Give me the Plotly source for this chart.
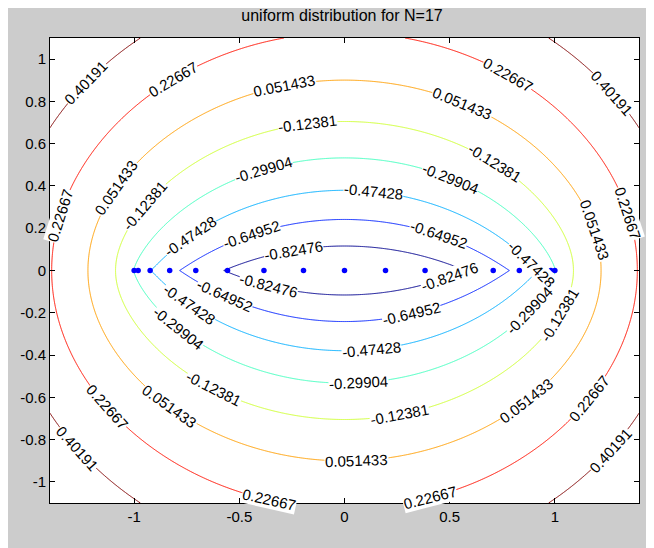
import numpy as np
import plotly.graph_objects as go

# --- data ---
title_text = "uniform distribution for N=17"
levels = [-0.82476, -0.64952, -0.47428, -0.29904, -0.12381, 0.051433, 0.22667, 0.40191]
level_text = ["-0.82476", "-0.64952", "-0.47428", "-0.29904", "-0.12381", "0.051433",
              "0.22667", "0.40191"]
# node positions on the real axis (blue dots)
node_x = [-1.0, -0.981, -0.924, -0.831, -0.707, -0.556, -0.383, -0.195, 0.0,
          0.195, 0.383, 0.556, 0.707, 0.831, 0.924, 0.981, 1.0]
node_y = [0.0] * len(node_x)
x_ticks = [-1, -0.5, 0, 0.5, 1]
y_ticks = [-1, -0.8, -0.6, -0.4, -0.2, 0, 0.2, 0.4, 0.6, 0.8, 1]
x_range = [-1.4, 1.4]
y_range = [-1.1, 1.1]

# approximate contour-label positions (level index, x, y)
label_level = [0, 0, 0,
               1, 1, 1, 1,
               2, 2, 2, 2, 2,
               3, 3, 3, 3, 3,
               4, 4, 4, 4, 4, 4,
               5, 5, 5, 5, 5, 5, 5,
               6, 6, 6, 6, 6, 6, 6, 6,
               7, 7, 7, 7]
label_x = [-0.241, -0.364, 0.497,
           -0.44, -0.572, 0.44, 0.317,
           -0.733, -0.738, 0.137, 0.875, 0.128,
           -0.383, -0.795, 0.497, 0.884, 0.066,
           -0.936, -0.170, 0.70, 1.017, -0.62, 0.26,
           -1.078, -0.274, 0.544, 1.159, -0.832, 0.057, 0.87,
           -0.809, 0.766, -1.362, 1.324, -1.13, 1.154, -0.355, 0.402,
           -1.282, 1.263, -1.268, 1.263]
label_y = [0.097, -0.083, -0.017,
           0.158, -0.125, 0.144, -0.196,
           0.158, -0.163, 0.357, 0.012, -0.376,
           0.466, -0.282, 0.419, -0.196, -0.513,
           0.296, 0.665, 0.49, -0.21, -0.556, -0.674,
           0.386, 0.821, 0.745, 0.182, -0.646, -0.897, -0.622,
           0.892, 0.911, 0.263, 0.263, -0.646, -0.598, -1.062, -1.053,
           0.939, 0.83, -0.84, -0.849]


# logarithmic potential of the uniform distribution on [-1, 1]
def zlogz(w):
    w = np.asarray(w, dtype=complex)
    out = np.zeros_like(w)
    m = np.abs(w) > 1e-12
    out[m] = w[m] * np.log(w[m])
    return out


def potential(z):
    return 0.5 * np.real(zlogz(z + 1) - zlogz(z - 1)) - 1.0


def gradient(z):
    d = 0.5 * (np.log(z + 1) - np.log(z - 1))
    return np.real(d), -np.imag(d)


gx = np.linspace(x_range[0], x_range[1], 281)
gy = np.linspace(y_range[0], y_range[1], 221)
X, Y = np.meshgrid(gx, gy)
U = potential(X + 1j * Y)


# MATLAB-style jet colormap (64 entries)
def jet64():
    m = 64
    n = 16
    u = np.concatenate([np.arange(1, n + 1) / n, np.ones(n - 1), np.arange(n, 0, -1) / n])
    g = 8 + np.arange(1, len(u) + 1)
    r = g + n
    b = g - n
    J = np.zeros((m, 3))
    J[r[r <= m] - 1, 0] = u[r <= m]
    J[g[g <= m] - 1, 1] = u[g <= m]
    J[b[b > 0] - 1, 2] = u[b > 0]
    return J


J = jet64()
level_colors = []
for k in range(len(levels)):
    idx = int(round(k * 63 / (len(levels) - 1)))
    r, g, b = (J[idx] * 255).round().astype(int)
    level_colors.append(f"rgb({r},{g},{b})")

fig = go.Figure()
for lev, col in zip(levels, level_colors):
    fig.add_trace(go.Contour(
        x=gx, y=gy, z=U,
        autocontour=False,
        contours=dict(start=lev, end=lev + 1e-4, size=1.0, coloring="none",
                      showlabels=False),
        line=dict(color=col, width=1, smoothing=0),
        showscale=False, hoverinfo="skip",
    ))

fig.add_trace(go.Scatter(x=node_x, y=node_y, mode="markers",
                         marker=dict(color="#0000ff", size=5.5),
                         showlegend=False, hoverinfo="skip"))

# figure geometry (pixels per data unit), used to orient labels along the lines
fig_w, fig_h = 646, 540
mar = dict(l=39, r=15, t=30, b=45)
sx = (fig_w - mar["l"] - mar["r"]) / (x_range[1] - x_range[0])
sy = (fig_h - mar["t"] - mar["b"]) / (y_range[1] - y_range[0])

annotations = []
for li, lx, ly in zip(label_level, label_x, label_y):
    lev = levels[li]
    p = complex(lx, ly)
    for _ in range(8):
        gxv, gyv = gradient(p)
        val = potential(np.array([p]))[0]
        n2 = gxv * gxv + gyv * gyv
        p = p - (val - lev) * complex(gxv, gyv) / n2
    gxv, gyv = gradient(p)
    gsx, gsy = gxv / sx, -gyv / sy
    tx, ty = -gsy, gsx
    ang = np.degrees(np.arctan2(ty, tx))
    if ang > 90:
        ang -= 180
    if ang <= -90:
        ang += 180
    annotations.append(dict(
        x=p.real, y=p.imag, xref="x", yref="y", text=level_text[li],
        textangle=float(ang), showarrow=False, xanchor="center", yanchor="middle",
        bgcolor="white", borderpad=0,
        font=dict(family="Liberation Sans", size=15, color="black"),
    ))

axis_common = dict(showgrid=False, zeroline=False, showline=True, linecolor="black",
                   linewidth=1, mirror="ticks", ticks="inside", ticklen=5,
                   tickcolor="black",
                   tickfont=dict(family="Liberation Sans", size=15, color="black"))
fig.update_xaxes(range=x_range, tickvals=x_ticks, ticktext=[f"{v:g}" for v in x_ticks],
                 **axis_common)
fig.update_yaxes(range=y_range, tickvals=y_ticks, ticktext=[f"{v:g}" for v in y_ticks],
                 **axis_common)

fig.update_layout(
    width=fig_w, height=fig_h,
    margin=mar,
    paper_bgcolor="#cccccc", plot_bgcolor="white",
    showlegend=False,
    annotations=annotations,
    title=dict(text=title_text, x=334 / fig_w, xanchor="center", y=1 - 2 / fig_h,
               yanchor="top", yref="container",
               font=dict(family="Liberation Sans", size=16, color="black")),
)

fig.write_html("out.html")
